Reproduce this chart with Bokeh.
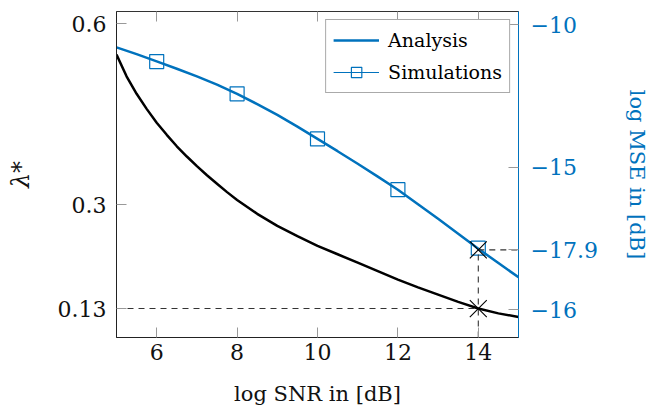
import numpy as np
from bokeh.plotting import figure
from bokeh.models import (Range1d, LinearAxis, FixedTicker, Legend, LegendItem,
                          ColumnDataSource)
from bokeh.embed import file_html
from bokeh.resources import INLINE

# ---- data ----
snr_lam = [5.0, 5.25, 5.5, 5.75, 6.0, 6.25, 6.5, 6.75, 7.0, 7.25, 7.5, 7.75, 8.0, 8.5, 9.0, 9.5, 10.0,
           10.5, 11.0, 11.5, 12.0, 12.5, 13.0, 13.5, 14.0, 14.5, 15.0]
lam_star = [0.549, 0.513, 0.484, 0.459, 0.436, 0.416, 0.397, 0.380, 0.364, 0.349, 0.335, 0.321,
            0.308, 0.285, 0.265, 0.248, 0.232, 0.218, 0.204, 0.190, 0.176, 0.163, 0.151, 0.139,
            0.128, 0.120, 0.114]

snr_mse = [5, 5.5, 6, 6.5, 7, 7.5, 8, 8.5, 9, 9.5, 10, 10.5, 11, 11.5, 12, 12.5, 13, 13.5, 14, 14.5, 15]
mse_analysis = [-10.80, -11.04, -11.29, -11.55, -11.82, -12.11, -12.43, -12.79, -13.17, -13.58,
                -14.01, -14.44, -14.88, -15.33, -15.79, -16.30, -16.81, -17.33, -17.86, -18.36, -18.86]

snr_sim = [6, 8, 10, 12, 14]
mse_sim = [-11.30, -12.43, -14.01, -15.79, -17.84]

snr_op = 14
lam_op = 0.128
mse_op = -17.9

x_ticks = [6, 8, 10, 12, 14]
lam_ticks = [0.128, 0.3, 0.6]
lam_tick_labels = ["0.13", "0.3", "0.6"]
mse_ticks = [-10, -15, -17.9, -20]
mse_tick_labels = ["\u221210", "\u221215", "\u221217.9", "\u221216"]

x_lo, x_hi = 5, 15
lam_lo, lam_hi = 0.080, 0.6204
mse_lo, mse_hi = -20.97, -9.544

BLUE = "#0072BD"
FONT = "DejaVu Serif"
TICK_FS = "22px"

p = figure(width=658, height=409, output_backend="svg", toolbar_location=None,
           x_range=Range1d(x_lo, x_hi), y_range=Range1d(lam_lo, lam_hi),
           min_border_left=116, min_border_right=140, min_border_top=11, min_border_bottom=72)
p.extra_y_ranges = {"mse": Range1d(mse_lo, mse_hi)}
p.grid.visible = False
p.outline_line_color = "#333333"
p.background_fill_color = "white"
p.border_fill_color = "white"

def style_axis(ax, color="#111111", line_color="#222222"):
    ax.major_label_text_font = FONT
    ax.major_label_text_font_size = TICK_FS
    ax.major_label_text_color = color
    ax.axis_label_text_font = FONT
    ax.axis_label_text_font_size = "21px"
    ax.axis_label_text_font_style = "normal"
    ax.axis_label_text_color = color
    ax.axis_line_color = line_color
    ax.major_tick_line_color = "#999999"
    ax.major_tick_in = 10
    ax.major_tick_out = 0
    ax.minor_tick_line_color = None

xa = p.xaxis[0]
style_axis(xa)
xa.ticker = FixedTicker(ticks=x_ticks)
xa.axis_label = "log SNR in [dB]"
xa.major_label_standoff = 6
xa.axis_label_standoff = 19

ya = p.yaxis[0]
style_axis(ya)
ya.ticker = FixedTicker(ticks=lam_ticks)
ya.major_label_overrides = {t: s for t, s in zip(lam_ticks, lam_tick_labels)}
ya.axis_label = "\u03bb*"
ya.axis_label_text_font_style = "italic"
ya.axis_label_text_font_size = "24px"
ya.major_label_standoff = 10
ya.axis_label_standoff = 20

ra = LinearAxis(y_range_name="mse")
style_axis(ra, color=BLUE, line_color=BLUE)
ra.ticker = FixedTicker(ticks=mse_ticks)
ra.major_label_overrides = {t: s for t, s in zip(mse_ticks, mse_tick_labels)}
ra.axis_label = "log MSE in [dB]"
ra.major_label_standoff = 12
ra.axis_label_standoff = 24
p.add_layout(ra, "right")

ta = LinearAxis()
ta.ticker = FixedTicker(ticks=x_ticks)
ta.major_label_text_color = None
ta.major_label_standoff = 0
ta.axis_line_color = None
ta.major_tick_line_color = "#999999"
ta.major_tick_in = 10
ta.major_tick_out = 0
ta.minor_tick_line_color = None
p.add_layout(ta, "above")

# ---- curves ----
p.line(snr_lam, lam_star, line_color="black", line_width=2.5)
r_an = p.line(snr_mse, mse_analysis, line_color=BLUE, line_width=2.5, y_range_name="mse")

sim_src = ColumnDataSource(dict(x=snr_sim, y=mse_sim))
r_sim_line = p.line("x", "y", source=sim_src, line_color=BLUE, line_width=1.2,
                    y_range_name="mse", visible=False)
r_sim = p.scatter("x", "y", source=sim_src, marker="square", size=14, fill_alpha=0,
                  line_color=BLUE, line_width=1.2, y_range_name="mse")

# ---- dashed guides ----
p.segment(x0=[x_lo], y0=[lam_op], x1=[snr_op], y1=[lam_op], line_color="#333333",
          line_width=1.1, line_dash="6 5")
p.segment(x0=[snr_op], y0=[mse_lo], x1=[snr_op], y1=[mse_op], line_color="#333333",
          line_width=1.1, line_dash="6 5", y_range_name="mse")
p.segment(x0=[snr_op], y0=[mse_op], x1=[x_hi], y1=[mse_op], line_color="#333333",
          line_width=1.1, line_dash="6 5", y_range_name="mse")
p.scatter([snr_op], [lam_op], marker="x", size=24, line_color="black", line_width=1.1)
p.scatter([snr_op], [mse_op], marker="x", size=24, line_color="black", line_width=1.1,
          y_range_name="mse")

legend = Legend(items=[LegendItem(label="Analysis", renderers=[r_an]),
                       LegendItem(label="Simulations", renderers=[r_sim_line, r_sim])],
                location="top_right")
legend.label_text_font = FONT
legend.label_text_font_size = "19px"
legend.label_text_color = "black"
legend.glyph_width = 46
legend.glyph_height = 26
legend.label_height = 26
legend.label_standoff = 9
legend.padding = 7
legend.spacing = 6
legend.margin = 8
legend.border_line_color = "#555555"
legend.border_line_width = 1.2
legend.background_fill_alpha = 1
legend.inactive_fill_alpha = 0
p.add_layout(legend)

open("out.html", "w").write(file_html(p, INLINE))
